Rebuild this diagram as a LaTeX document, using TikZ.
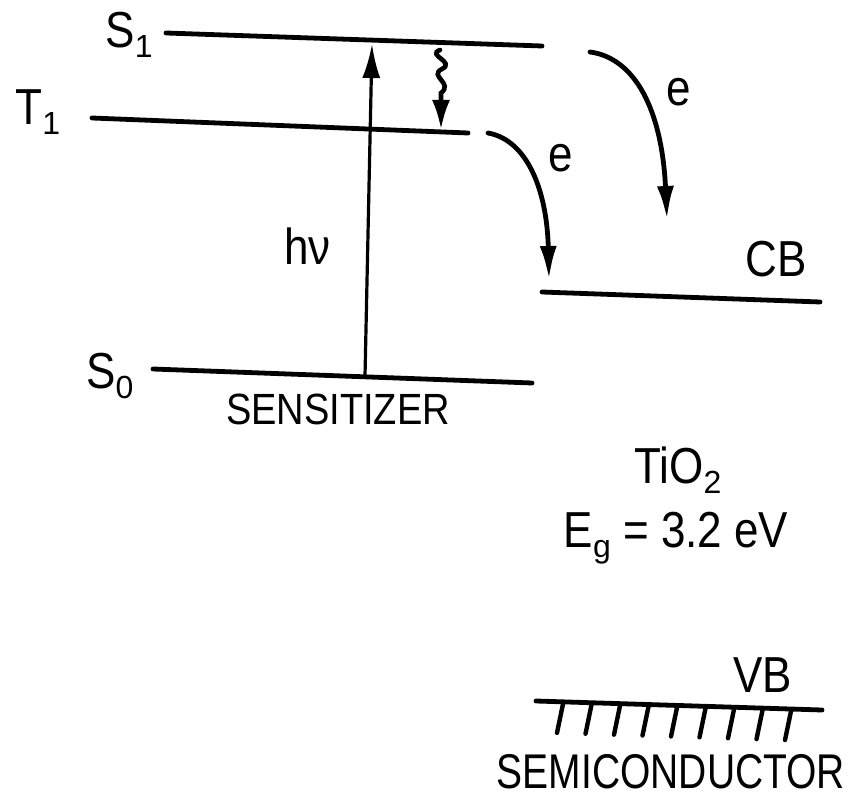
\documentclass[tikz,border=0pt]{standalone}
\usepackage{fontspec}
\setmainfont{Liberation Sans}
\usetikzlibrary{arrows.meta}
\newcommand\lsub[1]{\raisebox{-5pt}{\fontsize{16}{16}\selectfont #1}}
\newcommand\tall[1]{\scalebox{1}[1.15]{#1}}
\begin{document}
\begin{tikzpicture}[x=0.5pt,y=-0.5pt,
  lvl/.style={line width=2.4pt, line cap=round},
  lbl/.style={inner sep=0pt, font=\fontsize{22}{26}\selectfont},
  small/.style={inner sep=0pt, font=\fontsize{19}{23}\selectfont},
  photon/.style={line width=1.6pt, -{Latex[length=17pt,width=9pt]}},
  wave/.style={line width=2.3pt, line cap=round, -{Latex[length=15pt,width=9pt]}},
  earrow/.style={line width=2.4pt, line cap=round, -{Latex[length=17pt,width=8.5pt]}},
  tickmark/.style={line width=2.2pt, line cap=round}]
\useasboundingbox (0,0) rectangle (849,806);

% level end points
\coordinate (s1a) at (166,33);  \coordinate (s1b) at (542,46);
\coordinate (t1a) at (92,118);  \coordinate (t1b) at (468,133);
\coordinate (s0a) at (153,369); \coordinate (s0b) at (532,383);
\coordinate (cba) at (542,292); \coordinate (cbb) at (820,302);
\coordinate (vba) at (536,701); \coordinate (vbb) at (822,710);

\draw[lvl] (s1a) -- (s1b);
\draw[lvl] (t1a) -- (t1b);
\draw[lvl] (s0a) -- (s0b);
\draw[lvl] (cba) -- (cbb);
\draw[lvl] (vba) -- (vbb);

% hatch below VB
\foreach \i in {0,...,8} {
  \pgfmathsetmacro\xx{563+28.5*\i}
  \pgfmathsetmacro\yy{703+(\xx-536)*9/286}
  \draw[tickmark] (\xx,\yy) -- (\xx-6,\yy+29);
}

% labels
\node[lbl, anchor=base west] (S1) at (105,48) {\tall{S}\lsub{1}};
\node[lbl, anchor=base west] (T1) at (15,125) {\tall{T}\lsub{1}};
\node[lbl, anchor=base west] (S0) at (86,388) {\tall{S}\lsub{0}};
\node[lbl, anchor=base west] (hv) at (284,265) {\tall{hν}};
\node[lbl, anchor=base] (e1) at (679,106) {\tall{e}};
\node[lbl, anchor=base] (e2) at (561,172) {\tall{e}};
\node[lbl, anchor=base west] (CB) at (745,277) {\tall{CB}};
\node[lbl, anchor=base] (tio) at (678,483) {\tall{TiO}\raisebox{-5pt}{\fontsize{16}{16}\selectfont 2}};
\node[lbl, anchor=base] (eg) at (676,547) {\tall{E}\raisebox{-5pt}{\fontsize{16}{16}\selectfont g}\tall{ = 3.2 eV}};
\node[lbl, anchor=base west] (VB) at (733,692) {\tall{VB}};
\node[small, anchor=base] (sens) at (338,424) {\tall{SENSITIZER}};
\node[lbl, anchor=base, font=\fontsize{19.5}{24}\selectfont] (semi) at (671,788) {\scalebox{1}[1.25]{SEMICONDUCTOR}};

% excitation
\coordinate (hvlow) at (365,376);
\coordinate (hvtop) at (372,44);
\draw[photon] (hvlow) -- (hvtop);

% intersystem crossing (wavy)
\coordinate (wtop) at (440,50);
\coordinate (wbot) at (441,130);
\draw[wave] (wtop) .. controls (426,55) and (456,62) .. (442,69)
  .. controls (428,76) and (454,83) .. (441,93) -- (wbot);

% electron injection
\coordinate (e1s) at (590,52);  \coordinate (e1t) at (667,220);
\coordinate (e2s) at (488,133); \coordinate (e2t) at (549,280);
\draw[earrow] (e1s) .. controls (635,58) and (662,110) .. (e1t);
\draw[earrow] (e2s) .. controls (527,140) and (547,190) .. (e2t);
\end{tikzpicture}
\end{document}
